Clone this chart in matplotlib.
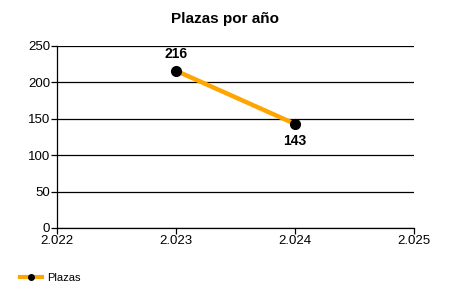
import matplotlib
matplotlib.use("Agg")
import matplotlib.pyplot as plt
from matplotlib.ticker import FuncFormatter
from matplotlib.lines import Line2D

years = [2023, 2024]
plazas = [216, 143]
series_name = "Plazas"
title = "Plazas por año"

plt.rcParams['font.family'] = ['Liberation Sans', 'DejaVu Sans']

fig = plt.figure(figsize=(4.5, 3), dpi=100)
ax = fig.add_axes([57/450, 1-228/300, (414-57)/450, (228-46)/300])

ax.plot(years, plazas, color='#FFA500', lw=3.2, marker='o', markersize=7,
        markerfacecolor='black', markeredgecolor='black', zorder=3, clip_on=False)

ax.annotate(str(plazas[0]), (years[0], plazas[0]), xytext=(0, 7), textcoords='offset points',
            ha='center', va='bottom', fontsize=10, fontweight='bold')
ax.annotate(str(plazas[1]), (years[1], plazas[1]), xytext=(0, -7), textcoords='offset points',
            ha='center', va='top', fontsize=10, fontweight='bold')

ax.set_xlim(2022, 2025)
ax.set_ylim(0, 250)
ax.set_xticks([2022, 2023, 2024, 2025])
ax.set_yticks([0, 50, 100, 150, 200, 250])
ax.xaxis.set_major_formatter(FuncFormatter(lambda v, p: f"{v:,.0f}".replace(',', '.')))
ax.yaxis.grid(True, color='black', lw=0.9)
ax.set_axisbelow(True)
for s in ['top', 'right']:
    ax.spines[s].set_visible(False)
ax.spines['left'].set_linewidth(0.9)
ax.spines['bottom'].set_linewidth(0.9)
ax.tick_params(axis='both', labelsize=9.5, length=4, width=0.9, pad=1, color='black')

fig.text(0.5, 1-19/300, title, ha='center', va='center', fontsize=11, fontweight='bold')

handle = Line2D([], [], color='#FFA500', lw=3, marker='o', markersize=4,
                markerfacecolor='black', markeredgecolor='black')
fig.legend([handle], [series_name], loc='center left', bbox_to_anchor=(20/450, 1-278/300),
           frameon=False, fontsize=8, handlelength=2.0, handletextpad=0.4, borderaxespad=0,
           borderpad=0)

fig.savefig('out.png', dpi=100)
